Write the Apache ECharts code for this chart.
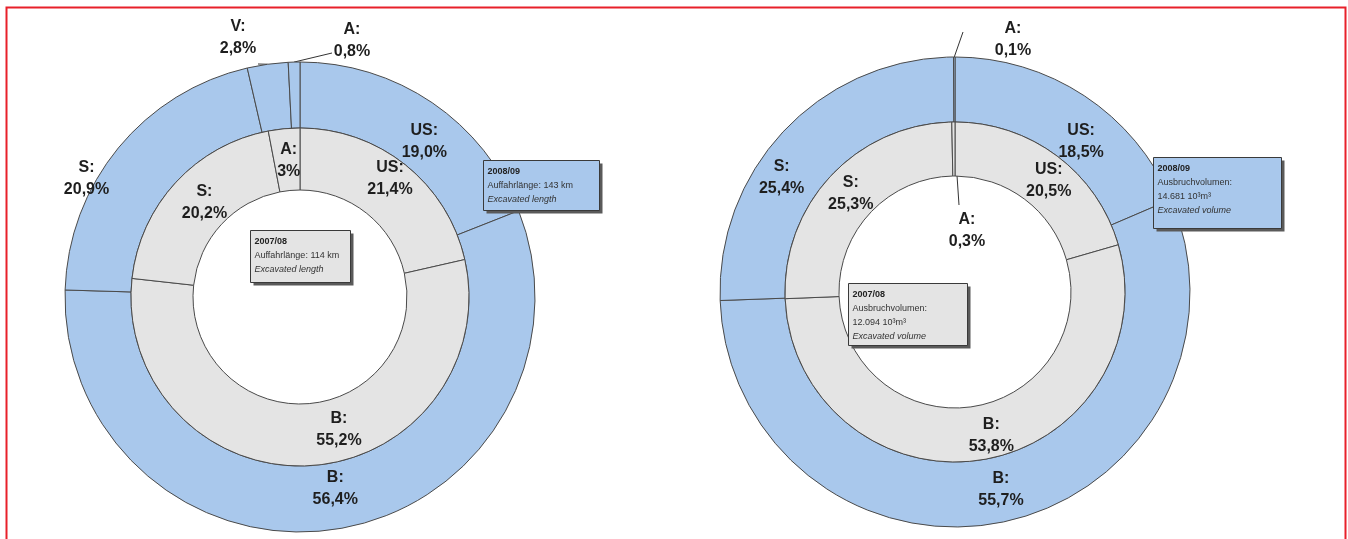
<!DOCTYPE html>
<html>
<head>
<meta charset="utf-8">
<script src="https://cdn.jsdelivr.net/npm/echarts@6/dist/echarts.min.js"></script>
<style>
html,body{margin:0;padding:0;background:#fff;}
#c{width:1348px;height:539px;}
</style>
</head>
<body>
<div id="c"></div>
<script>
// ---- data ----
const leftOuterNames = ['US', 'B', 'S', 'V', 'A'];
const leftOuterValues = [19.0, 56.4, 20.9, 2.8, 0.8];
const leftOuterLabels = ['19,0%', '56,4%', '20,9%', '2,8%', '0,8%'];

const leftInnerNames = ['US', 'B', 'S', 'A'];
const leftInnerValues = [21.4, 55.2, 20.2, 3];
const leftInnerLabels = ['21,4%', '55,2%', '20,2%', '3%'];

const rightOuterNames = ['US', 'B', 'S', 'A'];
const rightOuterValues = [18.5, 55.7, 25.4, 0.1];
const rightOuterLabels = ['18,5%', '55,7%', '25,4%', '0,1%'];

const rightInnerNames = ['US', 'B', 'S', 'A'];
const rightInnerValues = [20.5, 53.8, 25.3, 0.3];
const rightInnerLabels = ['20,5%', '53,8%', '25,3%', '0,3%'];

const boxLeftInner = ['2007/08', 'Auffahrlänge: 114 km', 'Excavated length'];
const boxLeftOuter = ['2008/09', 'Auffahrlänge: 143 km', 'Excavated length'];
const boxRightInner = ['2007/08', 'Ausbruchvolumen:', '12.094 10³m³', 'Excavated volume'];
const boxRightOuter = ['2008/09', 'Ausbruchvolumen:', '14.681 10³m³', 'Excavated volume'];

// ---- styles / layout ----
const BLUE = '#a9c8ec';
const GREY = '#e4e4e4';
const EDGE = '#4a4a4a';
const FONT = '"Liberation Sans", Arial, sans-serif';

// label adjustments:
//  ['d', dx, dy]            -> nudge from the inside position
//  ['a', x, y, ex, ey]      -> outside label at x,y; leader ends at label centre + (ex, ey)
const leftOuterAdj = [['d', 9, 14], ['d', 0, -10], ['d', -55, 12], ['a', 238, 38, 20, 26], ['a', 352, 41, -20, 12]];
const leftInnerAdj = [['d', 2, -8], ['d', 31, -8], ['d', 8, 1], ['d', 2, 4]];
const rightOuterAdj = [['d', 13, 21], ['d', 1, -3], ['d', -25, 28], ['a', 1013, 40, -50, -8]];
const rightInnerAdj = [['d', 6, 5], ['d', 13, -1], ['d', 2, 2], ['a', 967, 231, -8, -26]];

function buildData(names, values, labels, adj, fill) {
  return names.map((n, i) => {
    const outside = adj[i][0] === 'a';
    return {
      name: n,
      value: values[i],
      pct: labels[i],
      itemStyle: { color: fill },
      label: { position: outside ? 'outside' : 'inside' },
      labelLine: { show: outside, length: 10, length2: 10, lineStyle: { color: '#333', width: 1 } }
    };
  });
}

function makeLayout(adj) {
  return function (p) {
    const a = adj[p.dataIndex];
    if (a[0] === 'd') return { dx: a[1], dy: a[2] };
    const res = { x: a[1], y: a[2], align: 'center', verticalAlign: 'middle' };
    if (p.labelLinePoints && p.labelLinePoints.length) {
      res.labelLinePoints = [p.labelLinePoints[0].slice(), [a[1] + a[3], a[2] + a[4]]];
    }
    return res;
  };
}

function pieSeries(center, radius, names, values, labels, adj, fill) {
  return {
    type: 'pie',
    center: center,
    radius: radius,
    startAngle: 90,
    clockwise: true,
    avoidLabelOverlap: false,
    silent: true,
    animation: false,
    minAngle: 0,
    itemStyle: { borderColor: EDGE, borderWidth: 1 },
    label: {
      show: true,
      formatter: function (p) { return p.name + ':\n' + p.data.pct; },
      fontFamily: FONT,
      fontWeight: 'bold',
      fontSize: 16,
      lineHeight: 22,
      color: '#1e1e1e',
      align: 'center'
    },
    labelLayout: makeLayout(adj),
    data: buildData(names, values, labels, adj, fill)
  };
}

function box(left, top, w, h, lines, fill) {
  const last = lines.length - 1;
  const txt = lines.map((l, i) => (i === 0 ? '{b|' + l + '}' : i === last ? '{i|' + l + '}' : '{n|' + l + '}')).join('\n');
  return {
    type: 'group', left: left, top: top, z: 100,
    children: [
      { type: 'rect', shape: { x: 3, y: 3, width: w, height: h }, style: { fill: '#5a5a5a' }, z: 100 },
      { type: 'rect', shape: { x: 0, y: 0, width: w, height: h }, style: { fill: fill, stroke: '#3a3a3a', lineWidth: 1 }, z: 101 },
      {
        type: 'text', x: 4, y: 4, z: 102,
        style: {
          text: txt,
          rich: {
            b: { fontFamily: FONT, fontSize: 9, fontWeight: 'bold', lineHeight: 14, fill: '#222' },
            n: { fontFamily: FONT, fontSize: 9, lineHeight: 14, fill: '#333' },
            i: { fontFamily: FONT, fontSize: 9, fontStyle: 'italic', lineHeight: 14, fill: '#333' }
          }
        }
      }
    ]
  };
}

const chart = echarts.init(document.getElementById('c'), null, { renderer: 'canvas' });
chart.setOption({
  backgroundColor: '#ffffff',
  animation: false,
  series: [
    pieSeries([300, 297], [169, 235], leftOuterNames, leftOuterValues, leftOuterLabels, leftOuterAdj, BLUE),
    pieSeries([300, 297], [107, 169], leftInnerNames, leftInnerValues, leftInnerLabels, leftInnerAdj, GREY),
    pieSeries([955, 292], [170, 235], rightOuterNames, rightOuterValues, rightOuterLabels, rightOuterAdj, BLUE),
    pieSeries([955, 292], [116, 170], rightInnerNames, rightInnerValues, rightInnerLabels, rightInnerAdj, GREY)
  ],
  graphic: [
    { type: 'rect', left: 4, top: 5, z: 200, shape: { x: 0, y: 0, width: 1339, height: 560 }, style: { fill: 'none', stroke: '#e8202a', lineWidth: 2 } },
    box(250, 230, 100, 52, boxLeftInner, GREY),
    box(483, 160, 116, 50, boxLeftOuter, BLUE),
    box(848, 283, 119, 62, boxRightInner, GREY),
    box(1153, 157, 128, 71, boxRightOuter, BLUE)
  ]
});
</script>
</body>
</html>
